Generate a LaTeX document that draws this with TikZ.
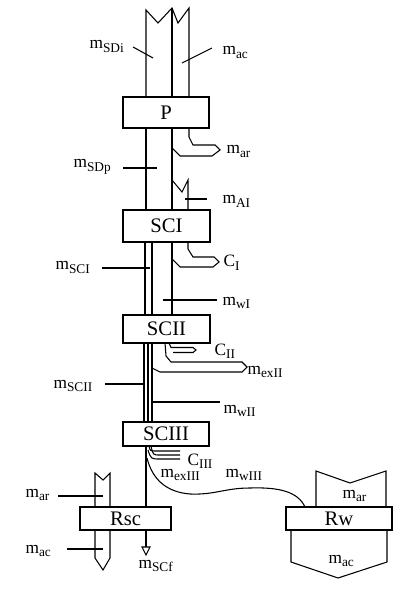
\documentclass[tikz,border=0pt]{standalone}
\usepackage{fontspec}
\setmainfont{Liberation Serif}
\newcommand\ml[2]{#1\raisebox{-0.5ex}{\fontsize{10}{11}\selectfont #2}}
\begin{document}
\begin{tikzpicture}[x=0.75pt,y=-0.75pt,line width=0.8pt,line join=miter,
  box/.style={draw,fill=white,inner sep=0pt,font=\fontsize{15.5}{17}\selectfont},
  lab/.style={anchor=base west,inner sep=0pt,font=\fontsize{13}{14}\selectfont},
  thick line/.style={line width=1.6pt}]
\useasboundingbox (0,0) rectangle (408,605);
% ---- inlet above P
\draw (146,97) -- (146,10) -- (158,23) -- (172,8) -- (178,23) -- (189,8) -- (189,97);
\draw (172,8) -- (172,97);
% ---- P to SCI
\draw (146,128) -- (146,210);
\draw (172,128) -- (172,210);
\draw (189,128) -- (189,137) -- (193,145) -- (215,145) -- (220,150) -- (212,156) -- (180,156) -- (172,148);
\draw (172,180) -- (182,192) -- (188,180) -- (188,210);
% ---- SCI to SCII
\draw (145,242) -- (145,315);
\draw (152,242) -- (152,315);
\draw (172,242) -- (172,315);
\draw (188,242) -- (188,249) -- (193,257) -- (214,257) -- (219,262) -- (213,267) -- (180,267) -- (172,259);
% ---- SCII to SCIII
\draw (144,343) -- (144,422);
\draw (148,343) -- (148,422);
\draw (152,343) -- (152,422);
\draw (169,343) -- (171,347.5) -- (193,347.5) -- (196,350) -- (193,352.5) -- (173,352.5);
\draw (165,343) -- (166,356) -- (171,362) -- (242,362) -- (247,367) -- (242,372) -- (160,372) -- (152,368);
% ---- below SCIII
\draw[thick line] (146,446) -- (146,507);
\draw[thick line] (146,530) -- (146,547);
\draw[fill=white] (142,547) -- (150,547) -- (146,555) -- cycle;
\draw (149,446) .. controls (150,451) .. (157,451) -- (180,451);
\draw (151,446) .. controls (153,455) .. (160,455) -- (180,455);
\draw (148,450) .. controls (151,459) .. (160,459) -- (180,459);
\draw (147,458) .. controls (152,478) and (165,492) .. (190,494) .. controls (215,495) and (225,488) .. (250,488) .. controls (280,487) and (298,492) .. (305,507);
% ---- Rsc streams
\draw (95,507) -- (95,473) -- (103,480) -- (110,473) -- (110,507);
\draw (95,530) -- (95,558) -- (103,570) -- (110,558) -- (110,530);
% ---- Rw streams
\draw (316,507) -- (316,471) -- (350,483) -- (386,471) -- (386,507);
\draw (291,530) -- (291,562) -- (338,578) -- (387,562) -- (387,530);
% ---- boxes
\node[box,minimum width={86*0.75pt},minimum height={31*0.75pt}] (P) at (166,112.5) {P};
\node[box,minimum width={87*0.75pt},minimum height={32*0.75pt}] (SCI) at (166.5,226) {SCI};
\node[box,minimum width={87*0.75pt},minimum height={28*0.75pt}] (SCII) at (166.5,329) {SCII};
\node[box,minimum width={86*0.75pt},minimum height={24*0.75pt}] (SCIII) at (166,434) {SCIII};
\node[box,minimum width={91*0.75pt},minimum height={23*0.75pt}] (Rsc) at (125.5,518.5) {Rsc};
\node[box,minimum width={106*0.75pt},minimum height={23*0.75pt}] (Rw) at (339,518.5) {Rw};
% ---- labels
\node[lab] (lSDi) at (89,49) {\ml{m}{SDi}};
\node[lab] (lac1) at (222,55) {\ml{m}{ac}};
\node[lab] (lar1) at (226,154) {\ml{m}{ar}};
\node[lab] (lSDp) at (73,168) {\ml{m}{SDp}};
\node[lab] (lAI) at (222,204) {\ml{m}{AI}};
\node[lab] (lCI) at (223,267) {\ml{C}{I}};
\node[lab] (lSCI) at (55,270) {\ml{m}{SCI}};
\node[lab] (lwI) at (222,305) {\ml{m}{wI}};
\node[lab] (lCII) at (214,355) {\ml{C}{II}};
\node[lab] (lexII) at (247,374) {\ml{m}{exII}};
\node[lab] (lSCII) at (53,388) {\ml{m}{SCII}};
\node[lab] (lwII) at (223,413) {\ml{m}{wII}};
\node[lab] (lCIII) at (187,465) {\ml{C}{III}};
\node[lab] (lexIII) at (160,477) {\ml{m}{exIII}};
\node[lab] (lwIII) at (225,477) {\ml{m}{wIII}};
\node[lab] (lar2) at (25,497) {\ml{m}{ar}};
\node[lab] (lac2) at (25,553) {\ml{m}{ac}};
\node[lab] (lSCf) at (138,568) {\ml{m}{SCf}};
\node[lab] (lar3) at (342,498) {\ml{m}{ar}};
\node[lab] (lac3) at (328,563) {\ml{m}{ac}};
% ---- leader lines
\draw (133,47) -- (153,58);
\draw (212,48) -- (182,63);
\draw (123,168) -- (157,168);
\draw (185,199) -- (207,199);
\draw (102,268) -- (150,268);
\draw (163,300) -- (217,300);
\draw (105,384) -- (144,384);
\draw (152,402) -- (220,402);
\draw (58,496) -- (103,496);
\draw (67,549) -- (103,549);
\end{tikzpicture}
\end{document}
